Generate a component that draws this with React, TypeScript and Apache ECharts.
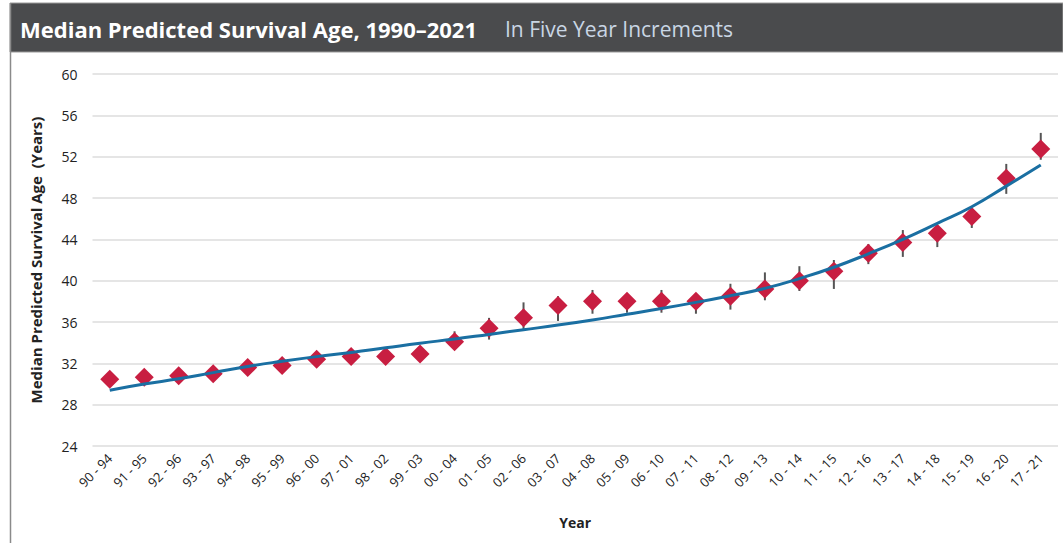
import React, { useEffect, useRef } from "react";
import * as echarts from "echarts";

const categories = [
  "90 - 94", "91 - 95", "92 - 96", "93 - 97", "94 - 98", "95 - 99", "96 - 00",
  "97 - 01", "98 - 02", "99 - 03", "00 - 04", "01 - 05", "02 - 06", "03 - 07",
  "04 - 08", "05 - 09", "06 - 10", "07 - 11", "08 - 12", "09 - 13", "10 - 14",
  "11 - 15", "12 - 16", "13 - 17", "14 - 18", "15 - 19", "16 - 20", "17 - 21",
];

const medianAge = [
  30.45, 30.65, 30.8, 31.0, 31.6, 31.8, 32.4, 32.65, 32.65, 32.9, 34.1, 35.4, 36.4, 37.6,
  38.0, 38.0, 38.0, 38.0, 38.5, 39.2, 40.0, 40.9, 42.65, 43.7, 44.6, 46.2, 49.9, 52.75,
];

const upperCI = [
  30.9, 31.1, 31.3, 31.5, 32.1, 32.3, 32.9, 33.1, 33.1, 33.4, 35.1, 36.4, 37.9, 38.5,
  39.1, 38.8, 39.1, 38.8, 39.7, 40.8, 41.4, 42.0, 43.55, 44.9, 45.3, 47.0, 51.3, 54.3,
];

const lowerCI = [
  30.0, 30.2, 30.3, 30.5, 31.1, 31.3, 31.9, 32.2, 32.2, 32.4, 33.4, 34.3, 35.2, 36.1,
  36.8, 36.9, 36.9, 36.8, 37.2, 38.1, 39.0, 39.2, 41.6, 42.3, 43.25, 45.1, 48.4, 51.7,
];

const trend = [
  29.4, 30.0, 30.5, 31.1, 31.7, 32.2, 32.65, 33.05, 33.5, 33.95, 34.35, 34.8, 35.25, 35.7,
  36.2, 36.75, 37.3, 37.9, 38.55, 39.25, 40.2, 41.3, 42.6, 44.0, 45.55, 47.15, 49.15, 51.2,
];

const yTicks = { min: 24, max: 60, interval: 4 };

export default function App() {
  const ref = useRef<HTMLDivElement>(null);

  useEffect(() => {
    document.body.style.margin = "0";
    const chart = echarts.init(ref.current!, undefined, { renderer: "svg" });
    const errData = categories.map((_, i) => [i, lowerCI[i], upperCI[i]]);
    chart.setOption({
      animation: false,
      backgroundColor: "#ffffff",
      textStyle: { fontFamily: "Open Sans" },
      graphic: [
        {
          type: "rect",
          shape: { x: 10, y: 3, width: 1053, height: 49 },
          style: { fill: "#4a4b4d", stroke: "#9a9a9a", lineWidth: 1 },
          z: 10,
        },
        {
          type: "line",
          shape: { x1: 10.5, y1: 3, x2: 10.5, y2: 543 },
          style: { stroke: "#8a8a8a", lineWidth: 1.5 },
          z: 11,
        },
        {
          type: "text",
          x: 20,
          y: 29,
          style: {
            text: "Median Predicted Survival Age, 1990–2021",
            fill: "#ffffff",
            font: "bold 22px 'Open Sans'",
            verticalAlign: "middle",
          },
          z: 12,
        },
        {
          type: "text",
          x: 505,
          y: 29,
          style: {
            text: "In Five Year Increments",
            fill: "#c9d6e4",
            font: "21px 'Open Sans'",
            verticalAlign: "middle",
          },
          z: 12,
        },
      ],
      grid: { left: 92.5, right: 5, top: 74, bottom: 97, containLabel: false },
      xAxis: {
        type: "category",
        data: categories,
        boundaryGap: true,
        axisLine: { show: false },
        axisTick: { show: false },
        axisLabel: {
          rotate: 45,
          interval: 0,
          margin: 10,
          fontSize: 13,
          color: "#222",
          fontFamily: "Open Sans",
        },
        name: "Year",
        nameLocation: "middle",
        nameGap: 69,
        nameTextStyle: { fontSize: 14, fontWeight: "bold", color: "#222", fontFamily: "Open Sans" },
      },
      yAxis: {
        type: "value",
        min: yTicks.min,
        max: yTicks.max,
        interval: yTicks.interval,
        axisLine: { show: false },
        axisTick: { show: false },
        axisLabel: { fontSize: 14, color: "#222", margin: 15, fontFamily: "Open Sans" },
        splitLine: { lineStyle: { color: "#dcdcdc", width: 1.5 } },
        name: "Median Predicted Survival Age  (Years)",
        nameLocation: "middle",
        nameGap: 49,
        nameTextStyle: { fontSize: 15, fontWeight: "bold", color: "#222", fontFamily: "Open Sans" },
      },
      series: [
        {
          type: "custom",
          name: "CI",
          data: errData,
          encode: { x: 0, y: [1, 2] },
          z: 1,
          renderItem: (params: any, api: any) => {
            const p1 = api.coord([api.value(0), api.value(1)]);
            const p2 = api.coord([api.value(0), api.value(2)]);
            return {
              type: "line",
              shape: { x1: p1[0], y1: p1[1], x2: p2[0], y2: p2[1] },
              style: { stroke: "#555555", lineWidth: 2 },
            };
          },
        },
        {
          type: "scatter",
          name: "Median",
          data: medianAge,
          symbol: "diamond",
          symbolSize: 19,
          itemStyle: { color: "#c81e41", opacity: 1 },
          z: 2,
        },
        {
          type: "line",
          name: "Trend",
          data: trend,
          smooth: true,
          showSymbol: false,
          lineStyle: { color: "#1a6fa2", width: 3 },
          z: 3,
        },
      ],
    });
    return () => chart.dispose();
  }, []);

  return <div ref={ref} style={{ width: 1063, height: 543 }} />;
}
